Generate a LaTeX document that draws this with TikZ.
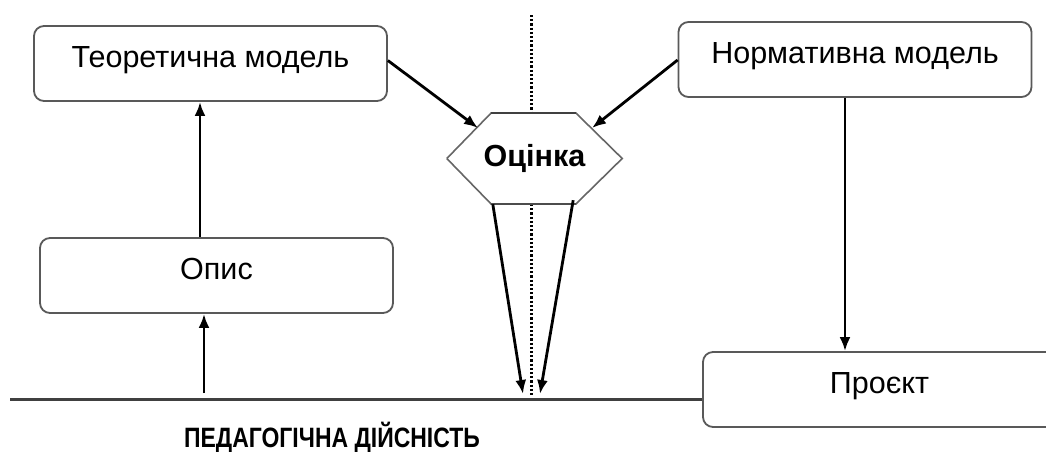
\documentclass[tikz,border=0pt]{standalone}
\usepackage{fontspec}
\setmainfont{Liberation Sans}
\newfontfamily\narrowsans[FakeStretch=0.82]{Liberation Sans}
\usetikzlibrary{arrows.meta,calc,backgrounds}

\tikzset{
  modelbox/.style={draw=black!65, line width=1.8pt, rounded corners=10pt, fill=white,
    minimum width=353pt, minimum height=75pt, inner sep=0pt,
    font=\fontsize{30.5}{36}\selectfont, text height=21pt, text depth=13pt},
  flow/.style={line width=2.8pt, -{Latex[length=14pt,width=11pt]}},
  outline/.style={draw=black!60, line width=1.6pt},
}

\begin{document}
\begin{tikzpicture}[x=1pt, y=-1pt]
  \useasboundingbox (0,0) rectangle (1046,451);

  % model boxes
  \node[modelbox] (teor) at (210.5,63.5) {Теоретична модель};
  \node[modelbox] (norm) at (855,59.5) {Нормативна модель};
  \node[modelbox] (opis) at (216.5,275.5) {Опис};
  \begin{scope}
    \clip (0,0) rectangle (1046,451);
    \node[modelbox] (proj) at (879.5,389.5) {Проєкт};
  \end{scope}

  % evaluation block: hexagon around the label, dotted axis behind it
  \node[minimum width=175pt, minimum height=91pt, inner sep=0pt,
        font=\bfseries\fontsize{30.5}{36}\selectfont] (est) at (534.5,158.5) {Оцінка};
  \coordinate (hnw) at ($(est.north west)+(44.5,0)$);
  \coordinate (hne) at ($(est.north east)+(-46.5,0)$);
  \coordinate (hse) at ($(est.south east)+(-46.5,0)$);
  \coordinate (hsw) at ($(est.south west)+(44.5,0)$);
  \coordinate (axtop) at (531.5,15);
  \coordinate (axbot) at (531.5,397);
  \begin{scope}[on background layer]
    \draw[black, line width=2.4pt, dash pattern=on 2.2pt off 2pt] (axtop) -- (axbot);
    \fill[white] (est.west) -- (hnw) -- (hne) -- (est.east) -- (hse) -- (hsw) -- cycle;
  \end{scope}
  \draw[outline] (est.west) -- (hnw) (hne) -- (est.east) -- (hse) (hsw) -- (est.west);
  \draw[black!75, line width=2.6pt] (hnw) -- (hne);
  \draw[black!70, line width=2pt] (hsw) -- (hse);

  % ground line: pedagogical reality
  \coordinate (gl) at (10,399.5);
  \draw[black!75, line width=3.6pt] (gl) -- (gl -| proj.west);
  \node[font=\narrowsans\bfseries\fontsize{28}{32}\selectfont, anchor=base] (real) at (332,447)
    {ПЕДАГОГІЧНА ДІЙСНІСТЬ};

  % connectors
  \coordinate (g1) at (204,393);
  \coordinate (g2) at (523,394);
  \coordinate (g3) at (540,394);
  \coordinate (e1) at (478,128);
  \coordinate (e2) at (592,128);

  \draw[flow] (g1) -- (g1 |- opis.south);
  \draw[flow] ([xshift=-16.5pt]opis.north) -- ([xshift=-10.5pt]teor.south);
  \draw[flow] ($(teor.east)+(0,-3)$) -- (e1);
  \draw[flow] ($(norm.west)+(0,0.5)$) -- (e2);
  \draw[flow] ([xshift=-10pt]norm.south) -- ([xshift=-10pt]norm.south |- proj.north);
  \draw[flow] ($(hsw)+(1.5,0)$) -- (g2);
  \draw[flow] ($(hse)+(-2.5,-4)$) -- (g3);
\end{tikzpicture}
\end{document}
